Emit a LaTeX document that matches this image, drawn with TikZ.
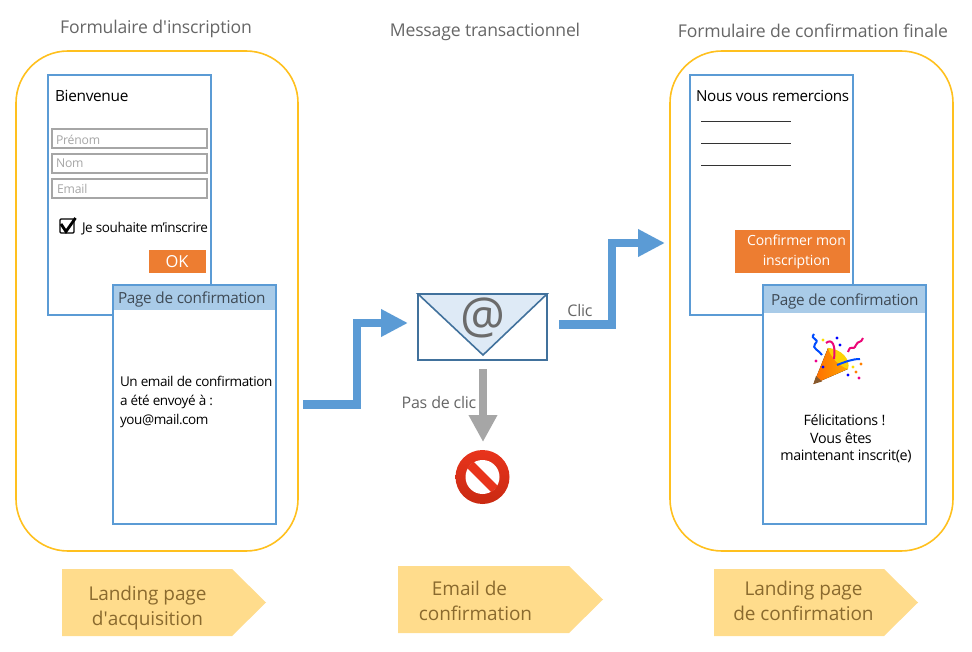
\documentclass[tikz,border=0pt]{standalone}
\usepackage{fontspec}
\setmainfont{Open Sans}
\newfontfamily\plainfam{Open Sans}
\usetikzlibrary{arrows.meta,shapes.geometric}
\definecolor{blu}{HTML}{5B9BD5}
\definecolor{hdr}{HTML}{A9CBE8}
\definecolor{gold}{HTML}{FFC01E}
\definecolor{tag}{HTML}{FFDC8C}
\definecolor{tagt}{HTML}{8A6A2E}
\definecolor{org}{HTML}{ED7D31}
\definecolor{gtxt}{HTML}{666666}
\definecolor{fld}{HTML}{A6A6A6}
\definecolor{env}{HTML}{41719C}
\definecolor{envf}{HTML}{DEEAF6}
\definecolor{hdt}{HTML}{3F4A55}
\definecolor{stopa}{HTML}{E8341C}
\definecolor{stopb}{HTML}{C92A12}
\tikzset{
 every node/.style={inner sep=0pt,outer sep=0pt},
 title/.style={text=gtxt,font=\fontsize{17.6}{20}\selectfont\addfontfeatures{LetterSpace=-1}},
 zone/.style={draw=gold,line width=1.6pt,rounded corners=52pt},
 page/.style={draw=blu,line width=1.7pt,fill=white,anchor=north west},
 head/.style={fill=hdr,anchor=north west},
 headt/.style={anchor=west,text=hdt,font=\fontsize{15.3}{18}\selectfont\addfontfeatures{LetterSpace=-2}},
 field/.style={draw=fld,line width=1.6pt,anchor=north west,minimum width=155pt,minimum height=19pt},
 ph/.style={anchor=west,text=fld,font=\fontsize{12.2}{14}\selectfont\addfontfeatures{LetterSpace=-1.5}},
 body/.style={anchor=west,align=left,text=black,font=\fontsize{13.5}{19}\selectfont\addfontfeatures{LetterSpace=-3}},
 msg/.style={font=\fontsize{14.3}{18.5}\selectfont\addfontfeatures{LetterSpace=-2.5}},
 btn/.style={fill=org,anchor=north west},
 flow/.style={draw=blu,line width=8.5pt,-{Triangle[length=27pt,width=26pt]}},
 tagbox/.style={fill=tag},
 tagtxt/.style={text=tagt,align=center,font=\fontsize{19}{24.5}\selectfont\addfontfeatures{LetterSpace=-0.5}},
 lbl/.style={text=gtxt,font=\fontsize{16}{18}\selectfont\addfontfeatures{LetterSpace=-1.5}},
}
\begin{document}
\begin{tikzpicture}[x=1pt,y=-1pt]
\useasboundingbox (0,0) rectangle (972,652);
% titles
\node[title] (t1) at (156,28.5) {Formulaire d{\plainfam'}inscription};
\node[title] (t2) at (485,32) {Message transactionnel};
\node[title] (t3) at (813,31) {Formulaire de confirmation finale};
% zones
\draw[zone] (16,51) rectangle (298,551);
\draw[zone] (670,51) rectangle (953,551);
% left form
\node[page,minimum width=163pt,minimum height=240pt] (p1) at (48,75) {};
\node[anchor=west,font=\fontsize{15.4}{18}\selectfont\addfontfeatures{LetterSpace=-2}] (b1) at (55,96) {Bienvenue};
\node[field] (f1) at (52,129) {};
\node[field] (f2) at (52,154) {};
\node[field] (f3) at (52,179) {};
\node[ph] (f1t) at (56,140) {Prénom};
\node[ph] (f2t) at (56,163.5) {Nom};
\node[ph] (f3t) at (57,188.5) {Email};
\node[draw=black,line width=1.2pt,rounded corners=1pt,minimum width=14pt,minimum height=14pt] (cb) at (67,226) {};
\draw[line width=2.8pt,black] (61,224) -- (66,231.5) -- (75.5,218);
\node[anchor=west,font=\fontsize{13.5}{15}\selectfont\addfontfeatures{LetterSpace=-3}] (cbt) at (82,228.5) {Je souhaite m’inscrire};
\node[btn,minimum width=57pt,minimum height=23pt] (ok) at (149,250) {};
\node[text=white,font=\fontsize{16.5}{18}\selectfont] (okt) at (177,262) {OK};
% left confirmation
\node[page,minimum width=163pt,minimum height=239pt] (p2) at (113,285) {};
\node[head,minimum width=161.5pt,minimum height=24pt] (h2) at (113.8,285.8) {};
\node[headt] (h2t) at (118,299) {Page de confirmation};
\node[body] (c2) at (120,402) {Un email de confirmation\\a été envoyé à :\\you@mail.com};
% envelope
\node[draw=env,line width=1.6pt,anchor=north west,minimum width=129pt,minimum height=66pt] (env) at (418,294) {};
\fill[envf] (env.north west) -- (env.north east) -- (483,355) -- cycle;
\draw[env,line width=1.6pt,line join=miter] (env.north west) -- (483,355) -- (env.north east) -- cycle;
\node[text=black!58,font=\fontsize{50}{50}\selectfont] (at) at (483,318) {@};
% flow arrows
\coordinate (a1s) at (303,404.5);
\coordinate (a1m) at (357,404.5);
\coordinate (a1n) at (357,323);
\coordinate (a1e) at (408,323);
\draw[flow,line join=miter] (a1s) -- (a1m) -- (a1n) -- (a1e);
\coordinate (a2s) at (559,324.5);
\coordinate (a2m) at (612,324.5);
\coordinate (a2n) at (612,243);
\coordinate (a2e) at (665,243);
\draw[flow,line join=miter] (a2s) -- (a2m) -- (a2n) -- (a2e);
\node[lbl] (clic) at (580,311) {Clic};
% no click
\coordinate (a3s) at (483,369);
\coordinate (a3e) at (483,442);
\draw[draw=fld,line width=8.5pt,-{Triangle[length=27pt,width=27pt]}] (a3s) -- (a3e);
\node[lbl] (pdc) at (439,402.5) {Pas de clic};
\node[circle,minimum size=54pt,top color=stopa,bottom color=stopb] (no) at (482.5,477) {};
\node[circle,minimum size=34pt,fill=white] (noi) at (482.5,477) {};
\draw[line width=9pt,draw=stopa] (noi.north west) -- (noi.south east);
% right form
\node[page,minimum width=163pt,minimum height=240pt] (p3) at (690,75) {};
\node[anchor=west,font=\fontsize{15.2}{18}\selectfont\addfontfeatures{LetterSpace=-2}] (b3) at (696,96) {Nous vous remercions};
\coordinate (l1a) at (701,121); \coordinate (l1b) at (791,121);
\coordinate (l2a) at (701,143); \coordinate (l2b) at (791,143);
\coordinate (l3a) at (701,165); \coordinate (l3b) at (791,165);
\draw[black!80,line width=0.9pt] (l1a) -- (l1b) (l2a) -- (l2b) (l3a) -- (l3b);
\node[btn,minimum width=115pt,minimum height=43pt] (cf) at (735,230) {};
\node[text=white,align=center,font=\fontsize{14}{19.5}\selectfont\addfontfeatures{LetterSpace=-1}] (cft) at (796.5,252) {Confirmer mon\\inscription};
% right confirmation
\node[page,minimum width=163pt,minimum height=239pt] (p4) at (763,285) {};
\node[head,minimum width=161.5pt,minimum height=27pt] (h4) at (763.8,285.8) {};
\node[headt] (h4t) at (771,301.5) {Page de confirmation};
% party popper
\fill[left color=orange!85!red,right color=orange!70!yellow] (813.5,384) -- (828,348) .. controls (838,350) and (846,360) .. (848,369) -- cycle;
\fill[yellow!70!orange] (828,348) .. controls (842,349) and (851,360) .. (848,369) .. controls (839,366) and (831,358) .. cycle;
\fill[brown!70!black] (813.5,384) -- (816,376) -- (822,381.5) -- cycle;
\draw[blue!70!cyan,line width=2pt] (814,334) .. controls (809,340) and (821,338) .. (815,344) .. controls (811,348) and (820,351) .. (822,355);
\draw[magenta!80!red,line width=2pt] (826,343) .. controls (832,338) and (836,345) .. (834,359);
\draw[magenta!80!red,line width=2pt] (848,352) .. controls (851,343) and (853,352) .. (856,345) .. controls (858,340) and (861,344) .. (863,338);
\draw[blue!70!cyan,line width=2pt] (837,365) .. controls (845,362) and (852,359) .. (860,359);
\foreach \x/\y/\c in {823/340/yellow!80!orange,837/338/blue,840/345/blue,816/361/magenta,823/367/blue,853/367/yellow!80!orange,861/364/orange,856/372/orange,848/375/blue,859/378/magenta}{\fill[\c] (\x,\y) circle (1.6pt);}
\node[msg] (c4a) at (844.5,420) {Félicitations !};
\node[msg] (c4b) at (841,438) {Vous êtes};
\node[msg] (c4c) at (846,456) {maintenant inscrit(e)};
% tags
\fill[tagbox] (62,569) -- (232,569) -- (266,602.5) -- (232,636) -- (62,636) -- cycle;
\fill[tagbox] (398,566) -- (569,566) -- (603,599.5) -- (569,633) -- (398,633) -- cycle;
\fill[tagbox] (714,569) -- (884,569) -- (918,602.5) -- (884,636) -- (714,636) -- cycle;
\node[tagtxt] (g1) at (147.5,608) {Landing page\\d{\plainfam'}acquisition};
\node[tagtxt] (g2) at (475.5,601) {Email de\hspace*{12pt}\\confirmation};
\node[tagtxt] (g3) at (803.5,601) {Landing page\\de confirmation};
\end{tikzpicture}
\end{document}
